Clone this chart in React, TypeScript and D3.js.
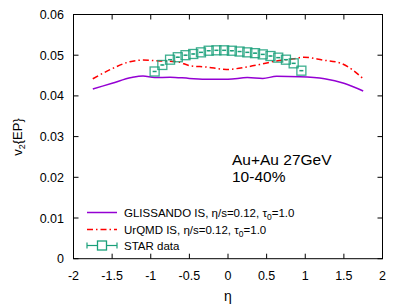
import React from "react";
import * as d3 from "d3";

const glissEta = [-1.75, -1.5, -1.25, -1.1, -0.95, -0.75, -0.5, -0.25, 0, 0.25, 0.45, 0.63, 0.93, 1.25, 1.5, 1.75];
const glissV2 = [0.0417, 0.0431, 0.0445, 0.0449, 0.0445, 0.0446, 0.0443, 0.0441, 0.0441, 0.0445, 0.0443, 0.0448, 0.0447, 0.0442, 0.0431, 0.0412];

const urqmdEta = [-1.75, -1.52, -1.27, -1.1, -0.88, -0.66, -0.49, -0.28, -0.02, 0.24, 0.41, 0.63, 0.85, 0.98, 1.23, 1.45, 1.62, 1.75];
const urqmdV2 = [0.0442, 0.0465, 0.0484, 0.0488, 0.0486, 0.0484, 0.0474, 0.0471, 0.0465, 0.0471, 0.0477, 0.0486, 0.0491, 0.0495, 0.0488, 0.0481, 0.0463, 0.0442];

const starEta = [-0.95, -0.85, -0.75, -0.65, -0.55, -0.45, -0.35, -0.25, -0.15, -0.05, 0.05, 0.15, 0.25, 0.35, 0.45, 0.55, 0.65, 0.75, 0.85, 0.95];
const starV2 = [0.046, 0.0476, 0.0489, 0.0495, 0.05, 0.0503, 0.0507, 0.0511, 0.0512, 0.0512, 0.0511, 0.0509, 0.0507, 0.0505, 0.0502, 0.0498, 0.0494, 0.0489, 0.048, 0.0462];
const starErr = [0.0001, 0.0001, 0.0001, 0.0001, 0.0001, 0.0001, 0.0001, 0.0001, 0.0001, 0.0001, 0.0001, 0.0001, 0.0001, 0.0001, 0.0001, 0.0001, 0.0001, 0.0001, 0.0001, 0.0001];

const xTicks = [-2, -1.5, -1, -0.5, 0, 0.5, 1, 1.5, 2];
const yTicks = [0, 0.01, 0.02, 0.03, 0.04, 0.05, 0.06];

const W = 407, H = 305;
const L = 73.5, R = 382.5, T = 14.5, B = 258.7;
const FONT = "'Liberation Sans', Arial, Helvetica, sans-serif";
const PURPLE = "#9400d3";
const RED = "#ff0000";
const TEAL = "#1aa07a";

export default function App() {
  const x = d3.scaleLinear().domain([-2, 2]).range([L, R]);
  const y = d3.scaleLinear().domain([0, 0.06]).range([B, T]);
  const line = d3.line<[number, number]>().x(d => x(d[0])).y(d => y(d[1])).curve(d3.curveMonotoneX);
  const gl = glissEta.map((e, i) => [e, glissV2[i]] as [number, number]);
  const ur = urqmdEta.map((e, i) => [e, urqmdV2[i]] as [number, number]);
  const tk = 5;
  const sq = 9;
  return (
    <svg width={W} height={H} style={{ position: "absolute", left: 0, top: 0 }} fontFamily={FONT}>
      <rect width={W} height={H} fill="#fff" />
      {xTicks.map((t, i) => (
        <g key={"x" + i}>
          <line x1={x(t)} x2={x(t)} y1={B} y2={B - tk} stroke="#000" />
          <line x1={x(t)} x2={x(t)} y1={T} y2={T + tk} stroke="#000" />
          <text x={x(t)} y={279.5} fontSize={12.5} textAnchor="middle">{t}</text>
        </g>
      ))}
      {yTicks.map((t, i) => (
        <g key={"y" + i}>
          <line x1={L} x2={L + tk} y1={y(t)} y2={y(t)} stroke="#000" />
          <line x1={R} x2={R - tk} y1={y(t)} y2={y(t)} stroke="#000" />
          <text x={64} y={y(t) + 4.5} fontSize={12.5} textAnchor="end">{t === 0 ? "0" : t.toFixed(2)}</text>
        </g>
      ))}
      <path d={line(gl) || ""} fill="none" stroke={PURPLE} strokeWidth={1.5} />
      <path d={line(ur) || ""} fill="none" stroke={RED} strokeWidth={1.5} strokeDasharray="6,3,1.5,3" />
      {starEta.map((e, i) => (
        <g key={"s" + i}>
          <line x1={x(e)} x2={x(e)} y1={y(starV2[i] - starErr[i])} y2={y(starV2[i] + starErr[i])} stroke={TEAL} strokeWidth={1.5} />
          <line x1={x(e) - 2} x2={x(e) + 2} y1={y(starV2[i])} y2={y(starV2[i])} stroke={TEAL} strokeWidth={1.5} />
          <rect x={x(e) - sq / 2} y={y(starV2[i]) - sq / 2} width={sq} height={sq} fill="none" stroke={TEAL} strokeWidth={1.3} opacity={0.85} />
        </g>
      ))}
      <rect x={L} y={T} width={R - L} height={B - T} fill="none" stroke="#000" strokeWidth={1} />
      <text x={232} y={165} fontSize={15.5}>Au+Au 27GeV</text>
      <text x={232} y={182} fontSize={15.5}>10-40%</text>
      <line x1={87} x2={117} y1={212.5} y2={212.5} stroke={PURPLE} strokeWidth={1.5} />
      <text x={124} y={216.5} fontSize={11.5}>GLISSANDO IS, η/s=0.12, τ<tspan fontSize={8.5} dy={3}>0</tspan><tspan dy={-3}>=1.0</tspan></text>
      <line x1={87} x2={117} y1={229.5} y2={229.5} stroke={RED} strokeWidth={1.5} strokeDasharray="6,3,1.5,3" />
      <text x={124} y={233.5} fontSize={11.5}>UrQMD IS, η/s=0.12, τ<tspan fontSize={8.5} dy={3}>0</tspan><tspan dy={-3}>=1.0</tspan></text>
      <line x1={87} x2={117} y1={245.5} y2={245.5} stroke={TEAL} strokeWidth={1.2} />
      <line x1={87} x2={87} y1={242.5} y2={248.5} stroke={TEAL} strokeWidth={1.2} />
      <line x1={117} x2={117} y1={242.5} y2={248.5} stroke={TEAL} strokeWidth={1.2} />
      <rect x={102 - sq / 2} y={245.5 - sq / 2} width={sq} height={sq} fill="#fff" stroke={TEAL} strokeWidth={1.3} />
      <text x={124} y={249.5} fontSize={11.5}>STAR data</text>
      <text x={228} y={301} fontSize={14} textAnchor="middle">η</text>
      <text transform="translate(22,137) rotate(-90)" fontSize={13} textAnchor="middle">v<tspan fontSize={9} dy={3}>2</tspan><tspan dy={-3}>{"{EP}"}</tspan></text>
    </svg>
  );
}
